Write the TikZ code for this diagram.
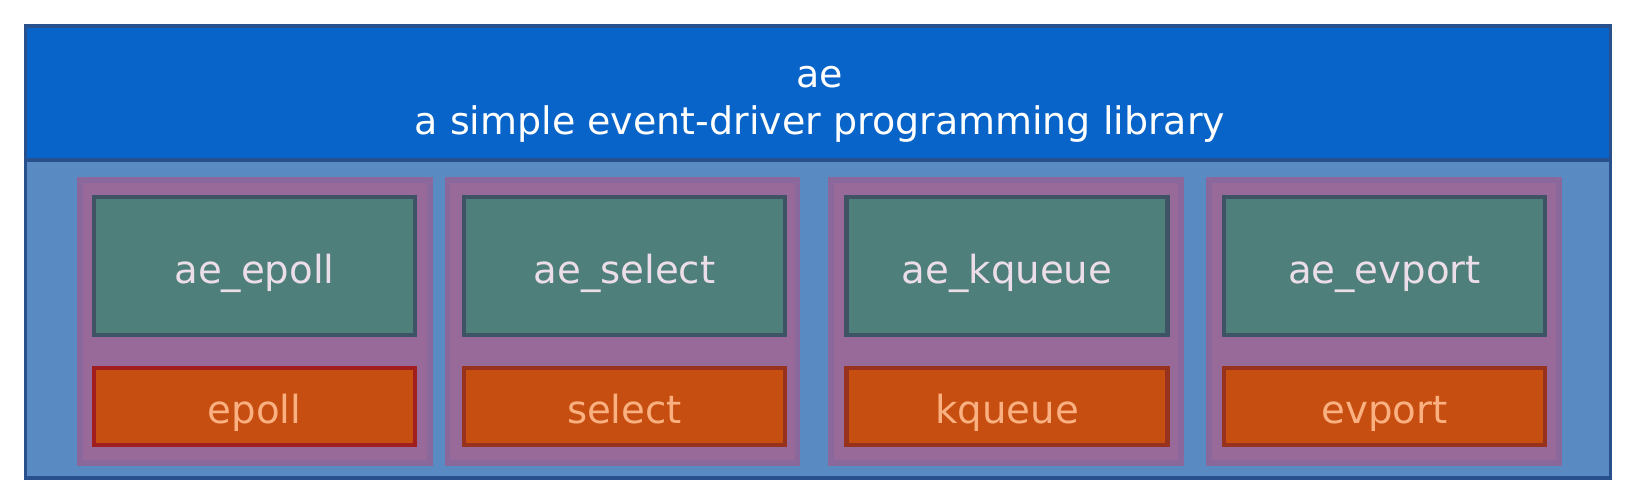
\documentclass[tikz,border=0pt]{standalone}
\usepackage{fontspec}
\setmainfont{DejaVu Sans}
\definecolor{bannerblue}{RGB}{8,100,200}
\definecolor{panelblue}{RGB}{90,138,194}
\definecolor{framedark}{RGB}{40,80,140}
\definecolor{mauve}{RGB}{152,106,154}
\definecolor{mauveedge}{RGB}{138,104,156}
\definecolor{tealfill}{RGB}{78,127,122}
\definecolor{tealedge}{RGB}{62,84,100}
\definecolor{orangefill}{RGB}{198,78,16}
\definecolor{orangeedge}{RGB}{150,50,30}
\definecolor{epolledge}{RGB}{160,30,30}
\definecolor{tealtext}{RGB}{236,222,232}
\definecolor{orangetext}{RGB}{250,176,128}
\tikzset{
  banner/.style={fill=bannerblue, draw=framedark, line width=1pt, minimum width=15.84cm, minimum height=1.34cm, inner sep=0pt},
  titletext/.style={text=white, align=center, inner sep=0pt, font=\fontsize{10.8}{13.4}\selectfont},
  panel/.style={fill=panelblue, draw=framedark, line width=1pt, minimum width=15.84cm, minimum height=3.18cm, inner sep=0pt},
  group/.style={fill=mauve, draw=mauveedge, line width=1.5pt, minimum width=3.50cm, minimum height=2.83cm, inner sep=0pt},
  implbox/.style={fill=tealfill, draw=tealedge, line width=1.2pt, minimum width=3.21cm, minimum height=1.38cm, inner sep=0pt, text=tealtext, font=\fontsize{11}{13}\selectfont, text height=9.7pt, text depth=0pt},
  apibox/.style={fill=orangefill, draw=orangeedge, line width=1.2pt, minimum width=3.21cm, minimum height=0.77cm, inner sep=0pt, text=orangetext, font=\fontsize{11}{13}\selectfont, text height=9.4pt, text depth=0pt}
}
\begin{document}
\begin{tikzpicture}[x=0.01cm,y=-0.01cm]
\useasboundingbox[fill=white] (0,0) rectangle (1633,485);
\node[panel] (panel) at (818,319) {};
\node[banner] (banner) at (818,93) {};
\node[titletext] (title) at (820,104) {ae\\a simple event-driver programming library};
% groups
\node[group] (g1) at (255,321.5) {};
\node[group] (g2) at (622.5,321.5) {};
\node[group] (g3) at (1006,321.5) {};
\node[group] (g4) at (1384,321.5) {};
% implementation boxes
\node[implbox] (t1) at (254.5,266) {ae\_epoll};
\node[implbox] (t2) at (624.5,266) {ae\_select};
\node[implbox] (t3) at (1007,266) {ae\_kqueue};
\node[implbox] (t4) at (1384.5,266) {ae\_evport};
% system API boxes
\node[apibox, draw=epolledge] (o1) at (254.5,406.5) {epoll};
\node[apibox] (o2) at (624.5,406.5) {select};
\node[apibox] (o3) at (1007,406.5) {kqueue};
\node[apibox] (o4) at (1384.5,406.5) {evport};
\end{tikzpicture}
\end{document}
